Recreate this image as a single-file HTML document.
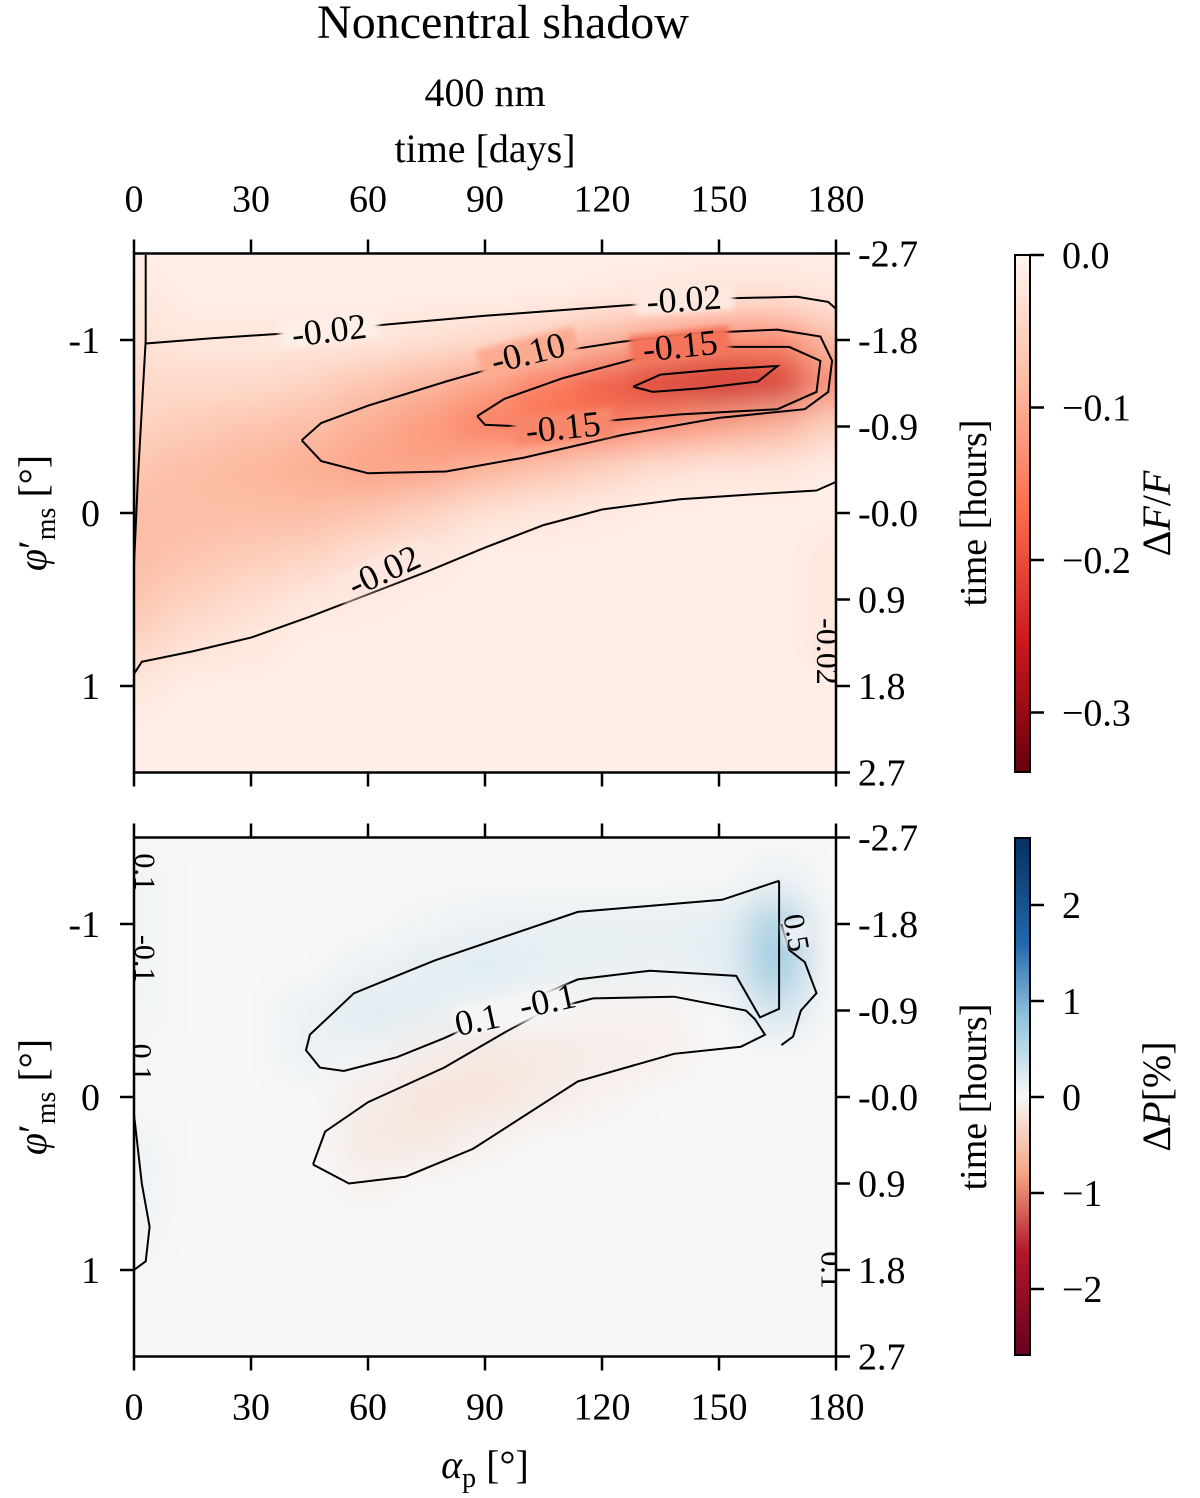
<!DOCTYPE html>
<html><head><meta charset="utf-8"><style>
body{margin:0;background:#fff;}
svg text{font-family:"Liberation Serif","DejaVu Serif",serif;fill:#000;}
</style></head><body>
<svg id="fig" width="1200" height="1493" viewBox="0 0 1200 1493" xmlns="http://www.w3.org/2000/svg">
<defs>
<filter id="blur" x="-10%" y="-10%" width="120%" height="120%"><feGaussianBlur stdDeviation="18"/></filter>
<filter id="soft" x="-20%" y="-40%" width="140%" height="180%"><feGaussianBlur stdDeviation="3"/></filter>
<clipPath id="clipTop"><rect x="134" y="255" width="702" height="516"/></clipPath>
<clipPath id="clipBot"><rect x="134" y="838" width="702" height="518"/></clipPath>
<linearGradient id="gradReds" x1="0" y1="0" x2="0" y2="1">
<stop offset="0" stop-color="#fff5f0"/><stop offset="0.25" stop-color="#fcbba1"/><stop offset="0.5" stop-color="#fb6a4a"/><stop offset="0.75" stop-color="#cb181d"/><stop offset="1" stop-color="#67000d"/></linearGradient>
<linearGradient id="gradRdBu" x1="0" y1="0" x2="0" y2="1">
<stop offset="0" stop-color="#053061"/><stop offset="0.2" stop-color="#2166ac"/><stop offset="0.35" stop-color="#92c5de"/><stop offset="0.5" stop-color="#f7f7f7"/><stop offset="0.65" stop-color="#f4a582"/><stop offset="0.8" stop-color="#b2182b"/><stop offset="1" stop-color="#67001f"/></linearGradient>
</defs>
<text x="503" y="38" font-size="48" text-anchor="middle">Noncentral shadow</text>
<text x="485" y="106" font-size="40" text-anchor="middle">400 nm</text>
<text x="485" y="162" font-size="40" text-anchor="middle">time [days]</text>
<g id="topPanel"></g>
<g id="botPanel"></g>
<g id="cbars"></g>
</svg>
<script>
// ---- data ----
const alphaGrid=[0,15,30,45,60,75,90,105,120,135,150,165,180];
const phiGrid=[-1.5,-1.25,-1,-0.75,-0.5,-0.25,0,0.25,0.5,0.75,1,1.25,1.5];
const fluxValues=[
[-0.01,-0.01,-0.01,-0.01,-0.01,-0.01,-0.01,-0.01,-0.01,-0.01,-0.01,-0.01,-0.01],
[-0.02,-0.01,-0.01,-0.01,-0.01,-0.01,-0.01,-0.01,-0.015,-0.02,-0.03,-0.03,-0.02],
[-0.03,-0.02,-0.02,-0.02,-0.02,-0.03,-0.04,-0.06,-0.09,-0.12,-0.14,-0.14,-0.08],
[-0.04,-0.04,-0.04,-0.05,-0.07,-0.09,-0.11,-0.15,-0.19,-0.23,-0.25,-0.24,-0.13],
[-0.05,-0.06,-0.07,-0.08,-0.1,-0.12,-0.15,-0.16,-0.15,-0.13,-0.11,-0.09,-0.05],
[-0.07,-0.08,-0.09,-0.1,-0.11,-0.11,-0.09,-0.07,-0.05,-0.03,-0.02,-0.02,-0.01],
[-0.08,-0.08,-0.08,-0.08,-0.07,-0.05,-0.03,-0.02,-0.015,-0.01,-0.01,-0.01,-0.01],
[-0.08,-0.07,-0.06,-0.05,-0.03,-0.02,-0.01,-0.01,-0.01,-0.01,-0.01,-0.01,-0.02],
[-0.07,-0.05,-0.035,-0.02,-0.015,-0.01,-0.01,-0.01,-0.01,-0.01,-0.01,-0.01,-0.02],
[-0.05,-0.03,-0.02,-0.01,-0.01,-0.01,-0.01,-0.01,-0.01,-0.01,-0.01,-0.01,-0.02],
[-0.02,-0.01,-0.01,-0.01,-0.01,-0.01,-0.01,-0.01,-0.01,-0.01,-0.01,-0.01,-0.01],
[-0.01,-0.01,-0.01,-0.01,-0.01,-0.01,-0.01,-0.01,-0.01,-0.01,-0.01,-0.01,-0.01],
[-0.01,-0.01,-0.01,-0.01,-0.01,-0.01,-0.01,-0.01,-0.01,-0.01,-0.01,-0.01,-0.01]];
const polValues=[
[0,0,0,0,0,0,0,0,0,0,0,0,0],
[0.05,0,0,0,0,0,0,0,0,0,0,0.1,0],
[0.05,0,0,0,0,0.05,0.1,0.12,0.12,0.12,0.15,0.6,0],
[0.05,0,0,0,0.08,0.15,0.2,0.15,0.12,0.1,0.15,0.7,0],
[0.05,0,0,0.1,0.2,0.15,0.05,0,-0.05,-0.05,0,0.3,0],
[0.02,0,0,0.1,0.05,-0.1,-0.15,-0.15,-0.1,-0.08,0,0,0],
[0,0,0,0,-0.1,-0.2,-0.2,-0.12,-0.05,0,0,0,0],
[0.05,0,0,0,-0.15,-0.15,-0.05,0,0,0,0,0,0],
[0.08,0,0,0,-0.05,0,0,0,0,0,0,0,0],
[0.06,0,0,0,0,0,0,0,0,0,0,0,0],
[0.02,0,0,0,0,0,0,0,0,0,0,0,0],
[0,0,0,0,0,0,0,0,0,0,0,0,0],
[0,0,0,0,0,0,0,0,0,0,0,0,0]];
const xTickLabels=["0","30","60","90","120","150","180"];
const xTicks=[0,30,60,90,120,150,180];
const yTicks=[-1,0,1];
const yTickLabels=["-1","0","1"];
const timeTicks=[-1.5,-1,-0.5,0,0.5,1,1.5];
const timeTickLabels=["-2.7","-1.8","-0.9","-0.0","0.9","1.8","2.7"];
const fluxCbTicks=[0,-0.1,-0.2,-0.3];
const fluxCbLabels=["0.0","\u22120.1","\u22120.2","\u22120.3"];
const polCbTicks=[2,1,0,-1,-2];
const polCbLabels=["2","1","0","\u22121","\u22122"];
// contours [alpha,phi]
const cTopUpper=[[3,-0.98],[20,-1.01],[40,-1.04],[60,-1.08],[90,-1.14],[120,-1.19],[150,-1.24],[170,-1.25],[178,-1.22],[180,-1.18]];
const cTopLower=[[0,0.93],[2,0.86],[15,0.8],[30,0.72],[45,0.6],[60,0.47],[75,0.34],[90,0.2],[105,0.07],[120,-0.02],[140,-0.08],[160,-0.11],[175,-0.13],[180,-0.18]];
const cTop10=[[43,-0.42],[48,-0.52],[60,-0.62],[80,-0.76],[105,-0.92],[125,-0.99],[145,-1.04],[165,-1.06],[176,-1.02],[179,-0.88],[178,-0.7],[172,-0.6],[150,-0.55],[125,-0.45],[100,-0.32],[80,-0.24],[60,-0.23],[48,-0.3],[43,-0.42]];
const cTop15=[[88,-0.56],[95,-0.66],[110,-0.78],[130,-0.9],[150,-0.96],[168,-0.96],[176,-0.88],[175,-0.7],[165,-0.6],[140,-0.57],[120,-0.53],[100,-0.5],[90,-0.51],[88,-0.56]];
const cTop20=[[128,-0.73],[135,-0.8],[150,-0.83],[165,-0.85],[160,-0.76],[145,-0.72],[133,-0.7],[128,-0.73]];
const cTopLeft=[[3,-1.5],[3,-1.0],[2,-0.6],[1,-0.2],[0,0.3]];
const cBotBlue=[[165.4,-1.25],[150.8,-1.14],[113.8,-1.07],[77.2,-0.79],[56.4,-0.6],[45.1,-0.36],[44.1,-0.27],[47.7,-0.17],[53.8,-0.15],[67.4,-0.23],[79.5,-0.34],[95,-0.5],[113.8,-0.68],[132.3,-0.73],[154.4,-0.7],[160.5,-0.46],[165.4,-0.51],[165.4,-1.0],[165.4,-1.25]];
const cBotOrange=[[45.9,0.39],[55.1,0.5],[69.7,0.46],[86.9,0.3],[113.8,-0.09],[138.5,-0.25],[155.6,-0.29],[161.8,-0.36],[159.2,-0.45],[156.9,-0.5],[138.5,-0.58],[117.7,-0.57],[105.4,-0.5],[95.6,-0.38],[79.5,-0.17],[60,0.03],[49,0.2],[45.9,0.39]];
const cBotLeft=[[0,0.1],[2,0.5],[4,0.75],[3,0.95],[0,1.0]];
const cBotRight=[[166,-1.0],[168,-0.85],[172,-0.78],[175,-0.6],[171,-0.5],[169,-0.35],[166,-0.3]];

const NS="http://www.w3.org/2000/svg";
const X0=134,X1=836;
function xs(a){return X0+(a/180)*(X1-X0);}
function ysTop(p){return 513+p*173;}
function ysBot(p){return 1097+p*173;}
function mk(tag,attrs,parent){const e=document.createElementNS(NS,tag);for(const k in attrs)e.setAttribute(k,attrs[k]);parent.appendChild(e);return e;}
function lerp(a,b,t){return a+(b-a)*t;}
function interp(stops,t){t=Math.max(0,Math.min(1,t));for(let i=0;i<stops.length-1;i++){if(t<=stops[i+1][0]){const u=(t-stops[i][0])/(stops[i+1][0]-stops[i][0]);const c=stops[i][1].map((v,j)=>Math.round(lerp(v,stops[i+1][1][j],u)));return `rgb(${c.join(',')})`;}}return `rgb(${stops[stops.length-1][1].join(',')})`;}
const reds=[[0,[255,245,240]],[0.25,[252,187,161]],[0.5,[251,106,74]],[0.75,[203,24,29]],[1,[103,0,13]]];
const rdbu=[[0,[5,48,97]],[0.2,[33,102,172]],[0.35,[146,197,222]],[0.5,[247,247,247]],[0.65,[244,165,130]],[0.8,[178,24,43]],[1,[103,0,31]]];
function redCol(v){return interp(reds,-v/0.34);}
function rdbuCol(v){return interp(rdbu,0.5-v/5.4);}

function heat(panel,vals,ys,colf,clip,name){
  const g=mk('g',{'clip-path':`url(#${clip})`},panel);
  
  
  mk('rect',{x:X0,y:ys(-1.5),width:X1-X0,height:ys(1.5)-ys(-1.5),fill:colf(vals[0][6])},g);
  const bg=mk('g',{filter:'url(#blur)'},g);
  const dx=xs(15)-xs(0),dy=ys(0.25)-ys(0);
  for(let r=0;r<phiGrid.length;r++)for(let c=0;c<alphaGrid.length;c++){
    const cell=mk('rect',{x:xs(alphaGrid[c])-dx/2-(c==0?40:0),y:ys(phiGrid[r])-dy/2-(r==0?40:0),width:dx+(c==0||c==alphaGrid.length-1?40:0)+1,height:dy+(r==0||r==phiGrid.length-1?40:0)+1,fill:colf(vals[r][c])},bg);
    
    
  }
}
function contour(panel,pts,ys,name){
  const d=pts.map((p,i)=>(i?'L':'M')+xs(p[0]).toFixed(1)+','+ys(p[1]).toFixed(1)).join('');
  const e=mk('path',{d:d,fill:'none',stroke:'#000','stroke-width':2},panel);
  
  
}
function clabel(panel,a,p,ys,txt,rot,size){
  const x=xs(a),y=ys(p);
  const t=mk('text',{x:x,y:y+size*0.35,'font-size':size,'text-anchor':'middle',transform:`rotate(${rot} ${x} ${y})`},panel);
  t.textContent=txt;
  
  
}
function gap(panel,a,p,ys,w,rot,col){const x=xs(a),y=ys(p);mk('rect',{x:x-w/2,y:y-14,width:w,height:28,fill:col,filter:'url(#soft)',transform:`rotate(${rot} ${x} ${y})`},panel);}
const FS=38;
function axes(panel,ys,bottomLabels,topLabels){
  const yt=ys(-1.5),yb=ys(1.5);
  mk('rect',{x:X0,y:yt,width:X1-X0,height:yb-yt,fill:'none',stroke:'#000','stroke-width':2.5},panel);
  xTicks.forEach((a,i)=>{
    mk('line',{x1:xs(a),x2:xs(a),y1:yt,y2:yt-14,stroke:'#000','stroke-width':2.5},panel);
    mk('line',{x1:xs(a),x2:xs(a),y1:yb,y2:yb+14,stroke:'#000','stroke-width':2.5},panel);
    if(bottomLabels){const t=mk('text',{x:xs(a),y:yb+63,'font-size':FS,'text-anchor':'middle'},panel);t.textContent=xTickLabels[i];
      
      }
    if(topLabels){const t=mk('text',{x:xs(a),y:yt-42,'font-size':FS,'text-anchor':'middle'},panel);t.textContent=xTickLabels[i];
      
      }
  });
  yTicks.forEach((p,i)=>{
    mk('line',{x1:X0,x2:X0-14,y1:ys(p),y2:ys(p),stroke:'#000','stroke-width':2.5},panel);
    const t=mk('text',{x:100,y:ys(p)+13,'font-size':FS,'text-anchor':'end'},panel);t.textContent=yTickLabels[i];
    
    
  });
  timeTicks.forEach((p,i)=>{
    mk('line',{x1:X1,x2:X1+14,y1:ys(p),y2:ys(p),stroke:'#000','stroke-width':2.5},panel);
    const t=mk('text',{x:858,y:ys(p)+13,'font-size':FS},panel);t.textContent=timeTickLabels[i];
    
    
  });
  const yc=ys(0);
  const yl=mk('text',{x:0,y:0,'font-size':40,'text-anchor':'middle',transform:`translate(46 ${yc}) rotate(-90)`},panel);
  yl.innerHTML='<tspan font-style="italic">φ</tspan>′<tspan font-size="28" dy="9">ms</tspan><tspan dy="-9"> [°]</tspan>';
  
  
  const tl=mk('text',{x:0,y:0,'font-size':38,'text-anchor':'middle',transform:`translate(986 ${yc}) rotate(-90)`},panel);
  tl.textContent='time [hours]';
  
  
}
const topP=document.getElementById('topPanel'),botP=document.getElementById('botPanel'),cbG=document.getElementById('cbars');
heat(topP,fluxValues,ysTop,redCol,'clipTop','flux-heatmap');
const tc=mk('g',{'clip-path':'url(#clipTop)'},topP);
contour(tc,cTopUpper,ysTop,'contour-minus-0.02-upper');
contour(tc,cTopLower,ysTop,'contour-minus-0.02-lower');
contour(tc,cTop10,ysTop,'contour-minus-0.10');
contour(tc,cTop15,ysTop,'contour-minus-0.15');
contour(tc,cTop20,ysTop,'contour-minus-0.20');
contour(tc,cTopLeft,ysTop,'contour-left-edge');
gap(tc,50,-1.06,ysTop,100,-7,'#fdeee7');clabel(tc,50,-1.06,ysTop,'-0.02',-7,36);
gap(tc,141,-1.24,ysTop,100,-4,'#fde8e0');clabel(tc,141,-1.24,ysTop,'-0.02',-4,36);
gap(tc,64,0.33,ysTop,100,-25,'#fde6dd');clabel(tc,64,0.33,ysTop,'-0.02',-25,36);
gap(tc,101,-0.93,ysTop,100,-14,'#fbab90');clabel(tc,101,-0.93,ysTop,'-0.10',-14,36);
gap(tc,140,-0.97,ysTop,100,-6,'#f5735a');clabel(tc,140,-0.97,ysTop,'-0.15',-6,36);
gap(tc,110,-0.5,ysTop,100,-6,'#f7876b');clabel(tc,110,-0.5,ysTop,'-0.15',-6,36);
gap(tc,178,0.8,ysTop,30,90,'#fee6dc');clabel(tc,178,0.8,ysTop,'-0.02',90,32);
axes(topP,ysTop,false,true);

heat(botP,polValues,ysBot,rdbuCol,'clipBot','polarization-heatmap');
const bc=mk('g',{'clip-path':'url(#clipBot)'},botP);
contour(bc,cBotBlue,ysBot,'contour-plus-0.1');
contour(bc,cBotOrange,ysBot,'contour-minus-0.1');
contour(bc,cBotLeft,ysBot,'contour-left-edge');
contour(bc,cBotRight,ysBot,'contour-0.5');
gap(bc,97,-0.5,ysBot,120,-12,'#f6f5f5');clabel(bc,88,-0.45,ysBot,'0.1',-12,36);clabel(bc,106,-0.56,ysBot,'-0.1',-12,36);
gap(bc,170,-0.95,ysBot,24,80,'#e8eef3');clabel(bc,170,-0.95,ysBot,'0.5',80,30);
clabel(bc,3,-1.3,ysBot,'0.1',90,30);clabel(bc,3,-0.8,ysBot,'-0.1',90,30);clabel(bc,2,-0.2,ysBot,'0.1',90,30);clabel(bc,179,1.0,ysBot,'0.1',90,30);
axes(botP,ysBot,true,false);
const xl=mk('text',{x:485,y:1478,'font-size':40,'text-anchor':'middle'},botP);
xl.innerHTML='<tspan font-style="italic">α</tspan><tspan font-size="28" dy="9">p</tspan><tspan dy="-9"> [°]</tspan>';



function cbar(y0,y1,grad,ticks,labels,vmap,title,name){
  const g=mk('g',{},cbG);
  
  
  mk('rect',{x:1015,y:y0,width:15,height:y1-y0,fill:`url(#${grad})`,stroke:'#000','stroke-width':2},g);
  ticks.forEach((v,i)=>{const y=vmap(v);mk('line',{x1:1030,x2:1044,y1:y,y2:y,stroke:'#000','stroke-width':2.5},g);
    const t=mk('text',{x:1062,y:y+13,'font-size':FS},g);t.textContent=labels[i];
    
    });
  const ty=(y0+y1)/2;
  const t=mk('text',{x:0,y:0,'font-size':40,'text-anchor':'middle',transform:`translate(1170 ${ty}) rotate(-90)`},g);
  t.innerHTML=title;
  
  
}
cbar(255,772,'gradReds',fluxCbTicks,fluxCbLabels,v=>255+(-v)*1525,'Δ<tspan font-style="italic">F</tspan>/<tspan font-style="italic">F</tspan>','flux-colorbar');
cbar(838,1355,'gradRdBu',polCbTicks,polCbLabels,v=>1097-v*96,'Δ<tspan font-style="italic">P</tspan>[%]','polarization-colorbar');
</script>
</body></html>
